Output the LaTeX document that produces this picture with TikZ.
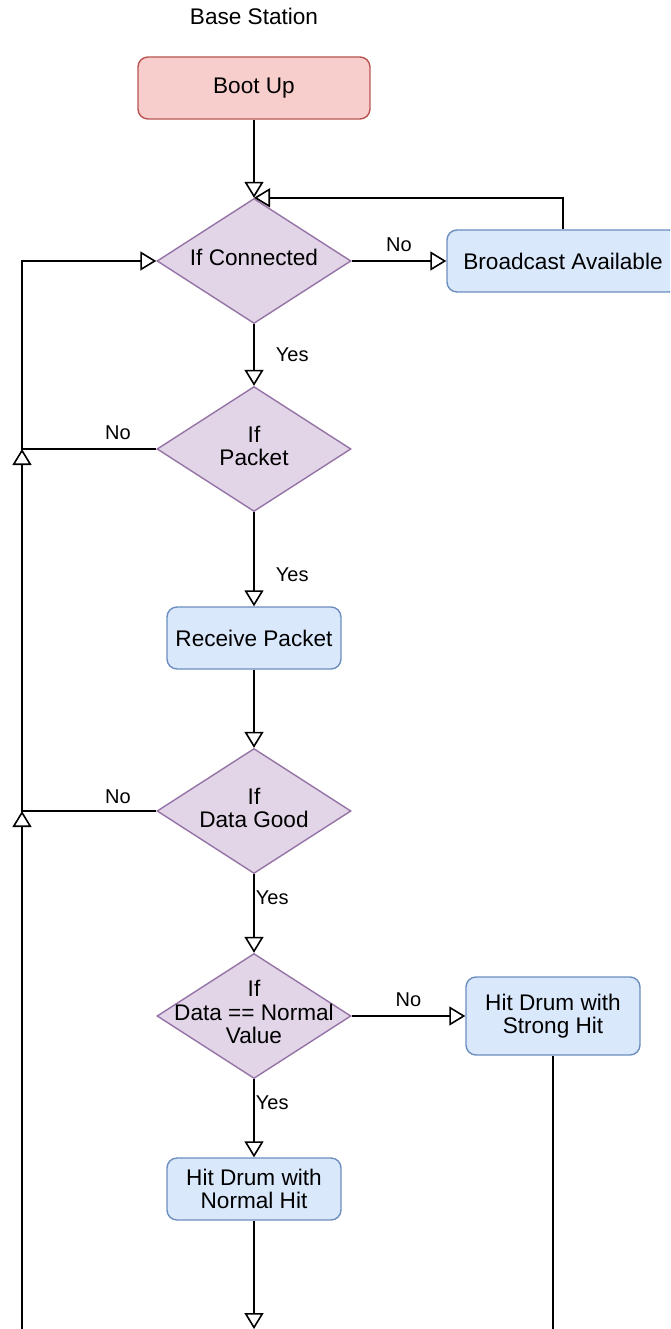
\documentclass[tikz,border=0pt]{standalone}
\usepackage{fontspec}
\setmainfont{Liberation Sans}
\usetikzlibrary{arrows.meta,shapes.geometric}
\definecolor{redfill}{HTML}{F8CECC}
\definecolor{redline}{HTML}{B85450}
\definecolor{bluefill}{HTML}{DAE8FC}
\definecolor{blueline}{HTML}{6C8EBF}
\definecolor{purpfill}{HTML}{E1D5E7}
\definecolor{purpline}{HTML}{9673A6}
\tikzset{
  txt/.style={font=\fontsize{22.6}{23.5}\selectfont, align=center, inner sep=0pt},
  lbl/.style={font=\fontsize{20}{21}\selectfont, inner sep=0pt},
  startbox/.style={draw=redline, fill=redfill, line width=1.4pt, rounded corners=10pt,
    minimum width=232pt, minimum height=62pt, txt},
  procbox/.style={draw=blueline, fill=bluefill, line width=1.4pt, rounded corners=10pt,
    minimum height=62pt, txt},
  decision/.style={diamond, draw=purpline, fill=purpfill, line width=1.4pt, inner sep=0pt,
    minimum width=194pt, minimum height=125pt},
  flow/.style={line width=1.8pt, -{Triangle[open, length=16pt, width=19pt, line width=1.6pt, fill=white]}},
  plain/.style={line width=1.8pt}
}
\begin{document}
\begin{tikzpicture}[x=1pt, y=-1pt]
\useasboundingbox (0,0) rectangle (670,1329);
\clip (0,0) rectangle (670,1329);

\node[txt] (title) at (254,16) {Base Station};

% boxes
\node[startbox] (boot) at (254,88) {Boot Up};
\node[procbox, minimum width=232pt] (bcast) at (563,261) {Broadcast Available};
\node[procbox, minimum width=174pt] (recv) at (254,638) {Receive Packet};
\node[procbox, minimum width=174pt, minimum height=78pt] (strong) at (553,1016) {Hit Drum with\\Strong Hit};
\node[procbox, minimum width=174pt] (normal) at (254,1189) {Hit Drum with\\Normal Hit};

% decisions
\node[decision] (conn) at (254,261) {};
\node[txt] (connt) at (254,257) {If Connected};
\node[decision] (pkt) at (254,449) {};
\node[txt] (pktt) at (254,446) {If\\Packet};
\node[decision] (good) at (254,811) {};
\node[txt] (goodt) at (254,808) {If\\Data Good};
\node[decision] (norm) at (254,1016) {};
\node[txt] (normt) at (254,1012) {If\\Data == Normal\\Value};

% loop-back coordinates
\coordinate (jpkt) at (22,449);
\coordinate (jgood) at (22,811);
\coordinate (loopin) at (22,1335);
\coordinate (normout) at (254,1329);
\coordinate (strongout) at (553,1335);

% main flow
\draw[flow] (boot.south) -- (conn.north);
\draw[flow] (conn.east) -- (bcast.west) node[lbl, midway, above=8pt] (no1) {No};
\draw[flow] (bcast.north) |- (conn.north);
\draw[flow] (conn.south) -- (pkt.north) node[lbl, pos=0.5, right=21pt] (yes1) {Yes};
\draw[flow] (pkt.south) -- (recv.north) node[lbl, pos=0.66, right=21pt] (yes2) {Yes};
\draw[flow] (recv.south) -- (good.north);
\draw[flow] (good.south) -- (norm.north) node[lbl, pos=0.3, right=1pt] (yes3) {Yes};
\draw[flow] (norm.east) -- (strong.west) node[lbl, midway, above=8pt] (no4) {No};
\draw[flow] (norm.south) -- (normal.north) node[lbl, pos=0.3, right=1pt] (yes4) {Yes};
\draw[flow] (normal.south) -- (normout);
\draw[plain] (strong.south) -- (strongout);

% returns along the left side
\draw[flow] (pkt.west) -- (jpkt) |- (conn.west);
\node[lbl] (no2) at (118,433) {No};
\draw[flow] (good.west) -- (jgood) -- (jpkt);
\node[lbl] (no3) at (118,797) {No};
\draw[flow] (loopin) -- (jgood);
\end{tikzpicture}
\end{document}
